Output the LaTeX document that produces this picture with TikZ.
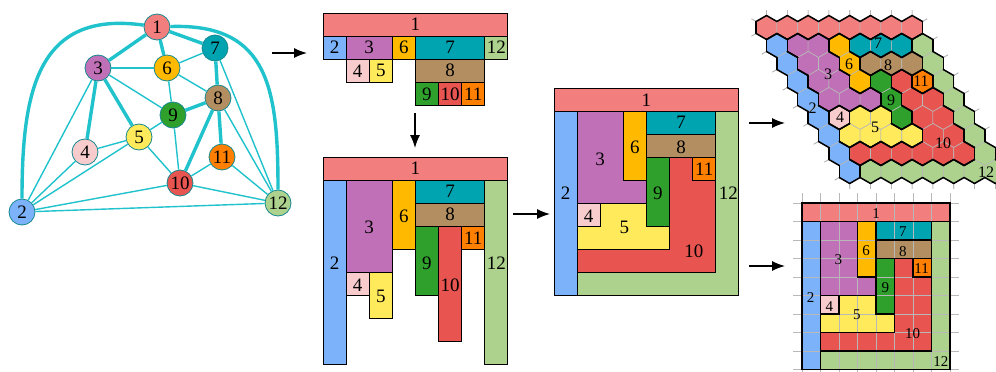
\documentclass[tikz,border=0pt]{standalone}
\usepackage{fontspec}
\setmainfont{Liberation Serif}
\usetikzlibrary{arrows.meta}

\definecolor{r1}{RGB}{242,126,126}
\definecolor{r2}{RGB}{124,178,250}
\definecolor{r3}{RGB}{192,112,182}
\definecolor{r4}{RGB}{248,204,204}
\definecolor{r5}{RGB}{255,234,92}
\definecolor{r6}{RGB}{255,186,0}
\definecolor{r7}{RGB}{0,164,176}
\definecolor{r8}{RGB}{178,142,96}
\definecolor{r9}{RGB}{48,160,44}
\definecolor{r10}{RGB}{232,84,80}
\definecolor{r11}{RGB}{255,128,0}
\definecolor{r12}{RGB}{172,210,142}
\definecolor{edgecol}{RGB}{32,194,204}

\tikzset{
  vtx/.style={circle, draw=edgecol!70!black, line width=0.8pt, minimum size=26pt, inner sep=0pt, font=\fontsize{19}{19}\selectfont},
  thinedge/.style={draw=edgecol, line width=1.4pt},
  thickedge/.style={draw=edgecol, line width=3.4pt},
  stagearrow/.style={-{Latex[length=13pt,width=10pt]}, line width=1.3pt},
  room/.style={draw=black, line width=1pt},
  lab/.style={inner sep=0pt, font=\fontsize{19}{19}\selectfont},
  gridlab/.style={inner sep=0pt, font=\fontsize{15}{15}\selectfont},
  hexlab/.style={inner sep=0pt, font=\fontsize{16}{16}\selectfont},
  gridline/.style={draw=black!28, line width=0.6pt},
  hexline/.style={draw=white!72!black, line width=0.6pt},
  hexwall/.style={draw=black, line width=1.5pt, line cap=round},
  hexstub/.style={draw=black!30, line width=0.6pt},
  region/.style={},
}

% the twelve rooms on the 8x9 grid
\newcommand{\fullplan}{%
  \path[fill=r1, region] (0,0) rectangle (8,1);
  \path[fill=r2, region] (0,1) rectangle (1,9);
  \path[fill=r3, region] (1,1) -- (3,1) -- (3,4) -- (4,4) -- (4,5) -- (1,5) -- cycle;
  \path[fill=r6, region] (3,1) rectangle (4,4);
  \path[fill=r7, region] (4,1) rectangle (7,2);
  \path[fill=r8, region] (4,2) rectangle (7,3);
  \path[fill=r9, region] (4,3) rectangle (5,6);
  \path[fill=r11, region] (6,3) rectangle (7,4);
  \path[fill=r10, region] (5,3) -- (6,3) -- (6,4) -- (7,4) -- (7,8) -- (1,8) -- (1,7) -- (5,7) -- cycle;
  \path[fill=r4, region] (1,5) rectangle (2,6);
  \path[fill=r5, region] (2,5) -- (4,5) -- (4,6) -- (5,6) -- (5,7) -- (1,7) -- (1,6) -- (2,6) -- cycle;
  \path[fill=r12, region] (7,1) -- (8,1) -- (8,9) -- (1,9) -- (1,8) -- (7,8) -- cycle;
}

\def\hexmap{{1,1,1,1,1,1,1,1,%
  2,3,3,6,7,7,7,12,%
  2,3,3,6,8,8,8,12,%
  2,3,3,6,9,10,11,12,%
  2,3,3,3,9,10,10,12,%
  2,4,5,5,9,10,10,12,%
  2,5,5,5,5,10,10,12,%
  2,10,10,10,10,10,10,12,%
  2,12,12,12,12,12,12,12}}

\newcommand{\cellreg}[2]{%
  \def\creg{0}%
  \ifnum#1>-1 \ifnum#1<8 \ifnum#2>-1 \ifnum#2<9
    \pgfmathtruncatemacro\creg{\hexmap[#2*8+#1]}%
  \fi\fi\fi\fi}

\def\hexsides{1/-1/0/-12/10.4/-6, 1/0/10.4/-6/10.4/6, 0/1/10.4/6/0/12,
  -1/1/0/12/-10.4/6, -1/0/-10.4/6/-10.4/-6, 0/-1/-10.4/-6/0/-12}

\begin{document}
\begin{tikzpicture}[x=1pt, y=-1pt]
\clip (0,0) rectangle (996,372);

% graph
\node[vtx, fill=r1] (v1) at (157,27) {1};
\node[vtx, fill=r2] (v2) at (22,212) {2};
\node[vtx, fill=r3] (v3) at (98,68) {3};
\node[vtx, fill=r4] (v4) at (85,152) {4};
\node[vtx, fill=r5] (v5) at (139,137) {5};
\node[vtx, fill=r6] (v6) at (167,68) {6};
\node[vtx, fill=r7] (v7) at (215,48) {7};
\node[vtx, fill=r8] (v8) at (218,98) {8};
\node[vtx, fill=r9] (v9) at (173,115) {9};
\node[vtx, fill=r10] (v10) at (180,183) {10};
\node[vtx, fill=r11] (v11) at (222,157) {11};
\node[vtx, fill=r12] (v12) at (278,203) {12};

\foreach \a/\b in {3/6, 6/7, 6/8, 6/9, 3/9, 3/2, 4/5, 4/2, 5/2, 5/9, 5/10, 9/10,
  10/11, 10/2, 10/12, 11/12, 8/12, 7/12, 2/12}
  \draw[thinedge] (v\a) -- (v\b);
\foreach \a/\b in {1/3, 1/6, 1/7, 3/4, 3/5, 7/8, 8/9, 8/10, 8/11}
  \draw[thickedge] (v\a) -- (v\b);
\draw[thickedge] (v1) to[out=172, in=90, looseness=1.3] (v2);
\draw[thickedge] (v1) to[out=2, in=90, looseness=1.3] (v12);

% first rows
\begin{scope}[shift={(323,13)}, x=23.1pt, y=-23.1pt]
  \foreach \n/\xa/\ya/\xb/\yb in {1/0/0/8/1, 2/0/1/1/2, 3/1/1/3/2, 6/3/1/4/2, 7/4/1/7/2,
    12/7/1/8/2, 4/1/2/2/3, 5/2/2/3/3, 8/4/2/7/3, 9/4/3/5/4, 10/5/3/6/4, 11/6/3/7/4}{
    \filldraw[room, fill=r\n] (\xa,\ya) rectangle (\xb,\yb);
    \node[lab] (p\n) at ({(\xa+\xb)/2},{(\ya+\yb)/2}) {\n};
  }
\end{scope}

% stretched rooms
\begin{scope}[shift={(323,157)}, x=23.1pt, y=-23.1pt]
  \foreach \n/\xa/\ya/\xb/\yb/\lx/\ly in {1/0/0/8/1/4/0.5, 2/0/1/1/9/0.5/4.6, 3/1/1/3/5/2/3.05,
    6/3/1/4/4/3.5/2.55, 7/4/1/7/2/5.5/1.5, 8/4/2/7/3/5.5/2.5, 9/4/3/5/6/4.5/4.6,
    10/5/3/6/8/5.5/5.55, 11/6/3/7/4/6.5/3.5, 12/7/1/8/9/7.5/4.6, 4/1/5/2/6/1.5/5.55,
    5/2/5/3/7/2.5/6.05}{
    \filldraw[room, fill=r\n] (\xa,\ya) rectangle (\xb,\yb);
    \node[lab] (s\n) at (\lx,\ly) {\n};
  }
\end{scope}

% rectangular dual
\begin{scope}[shift={(554,88)}, x=23.1pt, y=-23.1pt, region/.style={room}]
  \fullplan
  \foreach \n/\lx/\ly in {1/4/0.55, 2/0.5/4.55, 3/2/3.1, 4/1.5/5.55, 5/3.05/6.05, 6/3.5/2.55,
    7/5.5/1.5, 8/5.5/2.55, 9/4.5/4.55, 10/6.05/7.05, 11/6.5/3.5, 12/7.55/4.55}
    \node[lab] (m\n) at (\lx,\ly) {\n};
\end{scope}

% square grid
\begin{scope}[shift={(802,203)}, x=18.5pt, y=-18.5pt]
  \fullplan
  \foreach \i in {0,...,8} \draw[gridline] (\i,-0.55) -- (\i,9.4);
  \foreach \j in {0,...,9} \draw[gridline] (-0.5,\j) -- (8.5,\j);
  \tikzset{region/.style={draw=black, line width=1.5pt, fill=none}}
  \fullplan
  \foreach \n/\lx/\ly in {1/4/0.55, 2/0.47/5.1, 3/1.97/3.08, 4/1.48/5.6, 5/2.97/6.05, 6/3.46/2.6,
    7/5.45/1.55, 8/5.45/2.6, 9/4.5/4.55, 10/5.98/7.08, 11/6.47/3.57, 12/7.5/8.55}
    \node[gridlab] (q\n) at (\lx,\ly) {\n};
\end{scope}

% hexagonal grid
\foreach \hr in {0,...,8}{
  \foreach \hc in {0,...,7}{
    \pgfmathsetmacro\hx{766.5+10.4*\hr+20.8*\hc}
    \pgfmathsetmacro\hy{27.5+18*\hr}
    \foreach \dc/\dr/\ax/\ay/\bx/\by in \hexsides{
      \pgfmathtruncatemacro\ncol{\hc+\dc}
      \pgfmathtruncatemacro\nrow{\hr+\dr}
      \cellreg{\ncol}{\nrow}
      \ifnum\creg=0
        \draw[hexstub] (\hx,\hy) +(\ax,\ay) -- +(1.45*\ax,1.45*\ay)
          +(\bx,\by) -- +(1.45*\bx,1.45*\by);
      \fi
    }
  }
}
\foreach \hr in {0,...,8}{
  \foreach \hc in {0,...,7}{
    \pgfmathsetmacro\hx{766.5+10.4*\hr+20.8*\hc}
    \pgfmathsetmacro\hy{27.5+18*\hr}
    \cellreg{\hc}{\hr}
    \filldraw[hexline, fill=r\creg] (\hx,\hy) +(0,-12) -- +(10.4,-6) -- +(10.4,6)
      -- +(0,12) -- +(-10.4,6) -- +(-10.4,-6) -- cycle;
  }
}
\foreach \hr in {0,...,8}{
  \foreach \hc in {0,...,7}{
    \pgfmathsetmacro\hx{766.5+10.4*\hr+20.8*\hc}
    \pgfmathsetmacro\hy{27.5+18*\hr}
    \cellreg{\hc}{\hr}
    \let\myreg\creg
    \foreach \dc/\dr/\ax/\ay/\bx/\by in \hexsides{
      \pgfmathtruncatemacro\ncol{\hc+\dc}
      \pgfmathtruncatemacro\nrow{\hr+\dr}
      \cellreg{\ncol}{\nrow}
      \ifnum\creg=\myreg\else
        \draw[hexwall] (\hx,\hy) +(\ax,\ay) -- +(\bx,\by);
      \fi
    }
  }
}
\node[hexlab] (h2) at (812.7,108.3) {2};
\node[hexlab] (h3) at (828,74) {3};
\node[hexlab] (h4) at (840,117) {4};
\node[hexlab] (h5) at (875,127) {5};
\node[hexlab] (h6) at (849,64) {6};
\node[hexlab] (h7) at (878,43) {7};
\node[hexlab] (h8) at (888,65) {8};
\node[hexlab] (h9) at (891,100) {9};
\node[hexlab] (h10) at (943,143) {10};
\node[hexlab] (h11) at (921,81) {11};
\node[hexlab] (h12) at (986,172) {12};

% stages
\coordinate (a1s) at (272,53);  \coordinate (a1e) at (307,53);
\coordinate (a2s) at (415,113); \coordinate (a2e) at (415,148);
\coordinate (a3s) at (513,214); \coordinate (a3e) at (550,214);
\coordinate (a4s) at (749,123); \coordinate (a4e) at (785,123);
\coordinate (a5s) at (749,266); \coordinate (a5e) at (785,266);
\foreach \k in {1,...,5}
  \draw[stagearrow] (a\k s) -- (a\k e);
\end{tikzpicture}
\end{document}
